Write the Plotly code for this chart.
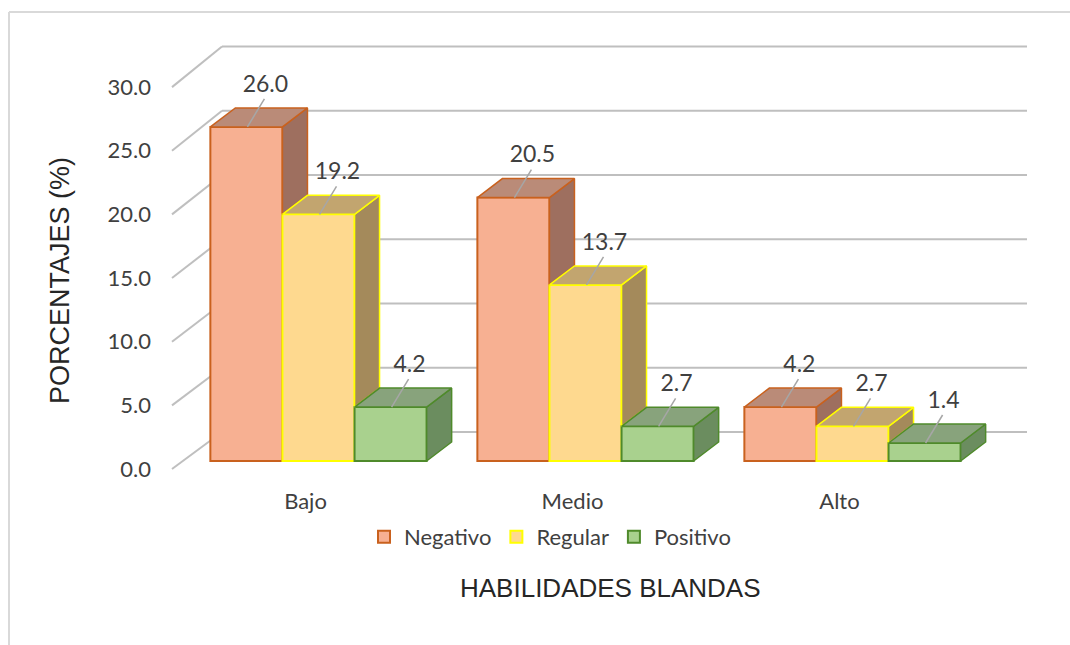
import plotly.graph_objects as go

# ---------------- data ----------------
categories = ["Bajo", "Medio", "Alto"]
series_names = ["Negativo", "Regular", "Positivo"]
negativo = [26.0, 20.5, 4.2]
regular = [19.2, 13.7, 2.7]
positivo = [4.2, 2.7, 1.4]
y_ticks = [0, 5, 10, 15, 20, 25, 30]
y_title = "PORCENTAJES (%)"
x_title = "HABILIDADES BLANDAS"

series_values = [negativo, regular, positivo]

# ---------------- style ----------------
front_colors = ["#F7B092", "#FED98F", "#A9D18E"]
edge_colors = ["#C9611E", "#FFFF00", "#4F8A2B"]
top_colors = ["#BA8B78", "#C2A56F", "#88A37C"]
side_colors = ["#9E6F5F", "#A48A5B", "#6B8D5F"]
grid_color = "#BFBFBF"
text_color = "#404040"
FONT = "Lato"
TITLE_FONT = "Liberation Sans, Arial"

W, H = 1070, 645
L, R, T, B = 160, 1040, 30, 486        # plot area in pixels
PX_X, X0 = 267.0, 318.5                # pixels per category, pixel of first category
PX_Y, Y0 = 12.85, 461.0                # pixels per unit, pixel of value 0 (bar front)

x_range = [(L - X0) / PX_X, (R - X0) / PX_X]
y_range = [(Y0 - B) / PX_Y, (Y0 - T) / PX_Y]

BAR_W = 0.27
OFFSETS = [-0.405, -0.135, 0.135]
DX, DY = 25 / PX_X, 19 / PX_Y          # depth of each box
FRONT_X, BACK_X, RIGHT_X = (172 - X0) / PX_X, (222 - X0) / PX_X, (1027 - X0) / PX_X
FRONT_DY, BACK_DY = -8 / PX_Y, 29 / PX_Y
FRONT_SCALE = 12.73 / PX_Y             # perspective: front plane slightly smaller
CAT_SHIFT = -13 / PX_X
LBL_DX, LBL_DY = 19 / PX_X, 41 / PX_Y
LEAD_DX, LEAD_DY = 18 / PX_X, 28 / PX_Y


def px_paper_x(px):
    return (px - L) / (R - L)


def px_paper_y(py):
    return (B - py) / (B - T)


def front_plane(t):
    return t * FRONT_SCALE + FRONT_DY


fig = go.Figure()

group_x = list(range(len(categories)))

# front faces
for k, name in enumerate(series_names):
    fig.add_trace(go.Bar(
        x=group_x, y=series_values[k], name=name,
        width=BAR_W, offset=OFFSETS[k],
        marker=dict(color=front_colors[k], line=dict(color=edge_colors[k], width=2)),
        hoverinfo="skip",
    ))

# side and top faces (computed from values through data coordinates)
for k in range(len(series_names)):
    sx, sy, tx, ty = [], [], [], []
    for g in group_x:
        v = series_values[k][g]
        x0 = g + OFFSETS[k]
        x1 = x0 + BAR_W
        low = series_values[k + 1][g] if k + 1 < len(series_names) else 0.0
        if low < v:
            sx += [x1, x1, x1 + DX, x1 + DX, x1, None]
            sy += [low, v, v + DY, low + DY, low, None]
        tx += [x0, x1, x1 + DX, x0 + DX, x0, None]
        ty += [v, v, v + DY, v + DY, v, None]
    fig.add_trace(go.Scatter(x=sx, y=sy, mode="lines", fill="toself",
                             fillcolor=side_colors[k],
                             line=dict(color=edge_colors[k], width=1.5),
                             showlegend=False, hoverinfo="skip"))
    fig.add_trace(go.Scatter(x=tx, y=ty, mode="lines", fill="toself",
                             fillcolor=top_colors[k],
                             line=dict(color=edge_colors[k], width=1.5),
                             showlegend=False, hoverinfo="skip"))

# leader lines and data labels
lx, ly, tx_, ty_, tt = [], [], [], [], []
for k in range(len(series_names)):
    for g in group_x:
        v = series_values[k][g]
        cx = g + OFFSETS[k] + BAR_W / 2
        lx += [cx + 1 / PX_X, cx + LEAD_DX, None]
        ly += [v, v + LEAD_DY, None]
        tx_.append(cx + LBL_DX)
        ty_.append(v + LBL_DY)
        tt.append(f"{v:.1f}")
fig.add_trace(go.Scatter(x=lx, y=ly, mode="lines",
                         line=dict(color="#A6A6A6", width=1.5),
                         showlegend=False, hoverinfo="skip"))
fig.add_trace(go.Scatter(x=tx_, y=ty_, mode="text", text=tt,
                         textfont=dict(family=FONT, size=23, color=text_color),
                         showlegend=False, hoverinfo="skip"))

# 3D gridlines (left wall diagonals + back wall lines)
shapes = []
for t in y_ticks:
    shapes.append(dict(type="line", xref="x", yref="y", layer="below",
                       x0=FRONT_X, y0=front_plane(t), x1=BACK_X, y1=t + BACK_DY,
                       line=dict(color=grid_color, width=2)))
    shapes.append(dict(type="line", xref="x", yref="y", layer="below",
                       x0=BACK_X, y0=t + BACK_DY, x1=RIGHT_X, y1=t + BACK_DY,
                       line=dict(color=grid_color, width=2)))
# chart frame
shapes.append(dict(type="line", xref="paper", yref="paper",
                   x0=px_paper_x(9), y0=px_paper_y(12), x1=px_paper_x(1075), y1=px_paper_y(12),
                   line=dict(color="#D9D9D9", width=2)))
shapes.append(dict(type="line", xref="paper", yref="paper",
                   x0=px_paper_x(9), y0=px_paper_y(12), x1=px_paper_x(9), y1=px_paper_y(650),
                   line=dict(color="#D9D9D9", width=2)))

annotations = [
    dict(text=y_title, xref="paper", yref="paper", x=px_paper_x(60), y=px_paper_y(281),
         showarrow=False, textangle=-90, xanchor="center", yanchor="middle",
         font=dict(family=TITLE_FONT, size=27, color="#262626")),
    dict(text=x_title, xref="paper", yref="paper", x=px_paper_x(610), y=px_paper_y(588),
         showarrow=False, xanchor="center", yanchor="middle",
         font=dict(family=TITLE_FONT, size=26, color="#262626")),
]

fig.update_layout(
    width=W, height=H,
    margin=dict(l=L, r=W - R, t=T, b=H - B, autoexpand=False),
    paper_bgcolor="white", plot_bgcolor="white",
    barmode="overlay",
    shapes=shapes, annotations=annotations,
    xaxis=dict(range=x_range, showgrid=False, zeroline=False, showline=False,
               automargin=False,
               tickmode="array", tickvals=[g + CAT_SHIFT for g in group_x],
               ticktext=categories, ticks="",
               tickfont=dict(family=FONT, size=22, color=text_color)),
    yaxis=dict(range=y_range, showgrid=False, zeroline=False, showline=False,
               automargin=False, ticklabelstandoff=8,
               tickmode="array", tickvals=[front_plane(t) for t in y_ticks],
               ticktext=[f"{t:.1f}" for t in y_ticks], ticks="",
               tickfont=dict(family=FONT, size=22, color=text_color)),
    legend=dict(orientation="h", xref="container", yref="container",
                x=550 / W, y=1 - 537 / H, xanchor="center", yanchor="middle",
                font=dict(family=FONT, size=22, color=text_color),
                bgcolor="rgba(0,0,0,0)"),
    showlegend=True,
)

fig.write_html("out.html")
